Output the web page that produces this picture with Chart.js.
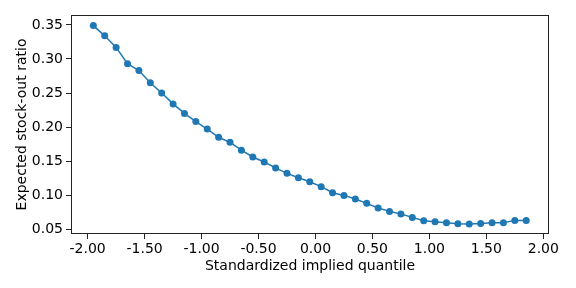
<!DOCTYPE html>
<html>
<head>
<meta charset="utf-8">
<script src="https://cdn.jsdelivr.net/npm/chart.js@4"></script>
<style>
  html, body { margin: 0; padding: 0; background: #fff; }
  #wrap { width: 576px; height: 288px; }
</style>
</head>
<body>
<div id="wrap"><canvas id="chart"></canvas></div>
<script>
// quantile positions (x) and expected stock-out ratio (y)
const quantiles = [
  -1.95, -1.85, -1.75, -1.65, -1.55, -1.45, -1.35, -1.25, -1.15, -1.05,
  -0.95, -0.85, -0.75, -0.65, -0.55, -0.45, -0.35, -0.25, -0.15, -0.05,
  0.05, 0.15, 0.25, 0.35, 0.45, 0.55, 0.65, 0.75, 0.85, 0.95,
  1.05, 1.15, 1.25, 1.35, 1.45, 1.55, 1.65, 1.75, 1.85
];
const stockOut = [
  0.349, 0.334, 0.317, 0.293, 0.283, 0.265, 0.250, 0.234, 0.220, 0.208,
  0.197, 0.185, 0.1775, 0.166, 0.156, 0.1486, 0.140, 0.132, 0.1256, 0.1197,
  0.1124, 0.1035, 0.0996, 0.0942, 0.0879, 0.081, 0.0761, 0.0722, 0.0673, 0.0624,
  0.0609, 0.0594, 0.058, 0.0575, 0.0584, 0.0594, 0.0594, 0.0629, 0.0629
];
const xTicks = [-2.0, -1.5, -1.0, -0.5, 0.0, 0.5, 1.0, 1.5, 2.0];
const yTicks = [0.05, 0.10, 0.15, 0.20, 0.25, 0.30, 0.35];

const blue = "#1f77b4";
const font = { family: "DejaVu Sans", size: 14 };

// draw the full box around the plot area (matplotlib style spines)
const frame = {
  id: "frame",
  afterDraw(chart) {
    const a = chart.chartArea;
    const ctx = chart.ctx;
    ctx.save();
    ctx.strokeStyle = "#222";
    ctx.lineWidth = 1;
    ctx.strokeRect(a.left + 0.5, a.top + 0.5, a.right - a.left - 1, a.bottom - a.top - 1);
    ctx.restore();
  }
};

new Chart(document.getElementById("chart"), {
  type: "line",
  data: {
    datasets: [{
      data: quantiles.map((q, i) => ({ x: q, y: stockOut[i] })),
      borderColor: blue,
      backgroundColor: blue,
      borderWidth: 1.5,
      pointRadius: 3.5,
      pointHoverRadius: 3.5,
      pointBorderWidth: 0,
      tension: 0,
      fill: false
    }]
  },
  options: {
    animation: false,
    responsive: true,
    maintainAspectRatio: false,
    layout: { padding: { top: 15, right: 27, left: 0, bottom: 0 } },
    plugins: { legend: { display: false }, tooltip: { enabled: false } },
    scales: {
      x: {
        type: "linear",
        min: -2.146,
        max: 2.05,
        afterBuildTicks: (s) => { s.ticks = xTicks.map((v) => ({ value: v })); },
        afterFit: (s) => { s.height = 54; },
        grid: { drawOnChartArea: false, drawTicks: true, tickLength: 5, color: "#222" },
        border: { display: false },
        ticks: {
          color: "#000",
          font: font,
          padding: 2,
          maxRotation: 0,
          callback: (v) => Number(v).toFixed(2)
        },
        title: {
          display: true,
          text: "Standardized implied quantile",
          color: "#000",
          font: font,
          padding: { top: 0, bottom: 13 }
        }
      },
      y: {
        min: 0.0429,
        max: 0.3646,
        afterBuildTicks: (s) => { s.ticks = yTicks.map((v) => ({ value: v })); },
        afterFit: (s) => { s.width = 71; },
        grid: { drawOnChartArea: false, drawTicks: true, tickLength: 5, color: "#222" },
        border: { display: false },
        ticks: {
          color: "#000",
          font: font,
          padding: 3,
          callback: (v) => Number(v).toFixed(2)
        },
        title: {
          display: true,
          text: "Expected stock-out ratio",
          color: "#000",
          font: font,
          padding: { top: 13.5, bottom: 0 }
        }
      }
    }
  },
  plugins: [frame]
});
</script>
</body>
</html>
